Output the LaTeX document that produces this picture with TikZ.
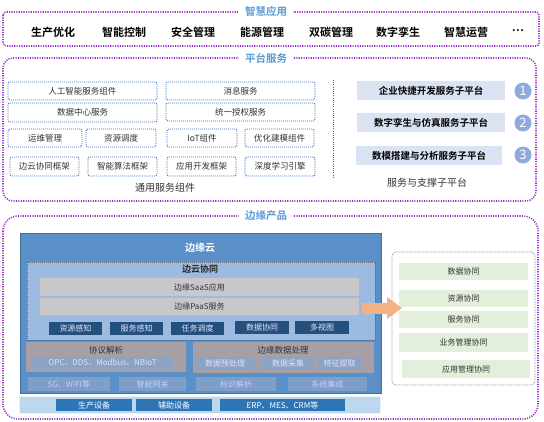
\documentclass[tikz,border=0pt]{standalone}
\usepackage{fontspec}
\setmainfont{Noto Sans CJK SC}[BoldFont={Noto Sans CJK SC Bold}]
\usetikzlibrary{arrows.meta}
\definecolor{purp}{HTML}{9B30C8}
\definecolor{ttl}{HTML}{5B9BD5}
\definecolor{dblue}{HTML}{4472C4}
\definecolor{subbg}{HTML}{DAE3F3}
\definecolor{circ}{HTML}{8EA9DB}
\definecolor{cloud}{HTML}{5A8FC7}
\definecolor{cloudb}{HTML}{41719C}
\definecolor{inner}{HTML}{9DBBE0}
\definecolor{greybar}{HTML}{C9C7CA}
\definecolor{navy}{HTML}{23507D}
\definecolor{mauve}{HTML}{A6A0A6}
\definecolor{opc}{HTML}{8DA3C4}
\definecolor{row5}{HTML}{7E9FC8}
\definecolor{band}{HTML}{BDD7EE}
\definecolor{devb}{HTML}{2E75B6}
\definecolor{green}{HTML}{E2EFDA}
\definecolor{orng}{HTML}{F4B183}
\definecolor{pnl}{HTML}{8497B0}
\newcommand\mybox[7]{\node[#6, minimum width={#4-#2}, minimum height={#5-#3}, inner sep=0pt, anchor=center] (#1) at ({(#2+#4)/2},{(#3+#5)/2}) {#7};}
\tikzset{
  region/.style={draw=purp, line width=1.6pt, dash pattern=on 1.1pt off 1.3pt},
  rtitle/.style={fill=white, text=ttl, font=\fontsize{10.5}{12}\selectfont\bfseries, inner xsep=6pt, inner ysep=1pt},
  toptext/.style={font=\fontsize{11}{13}\selectfont\bfseries},
  comp/.style={draw=dblue, line width=0.9pt, dash pattern=on 1pt off 1pt, rounded corners=2pt, font=\fontsize{8.5}{10}\selectfont, text=black!80},
  subplat/.style={fill=subbg, font=\fontsize{9.5}{11}\selectfont\bfseries},
  numc/.style={circle, fill=circ, text=white, minimum size=17pt, inner sep=0pt, font=\fontsize{13}{14}\selectfont},
  lbl/.style={font=\fontsize{9.5}{11}\selectfont, text=black!80},
  navybox/.style={fill=navy, text=white!90!blue, font=\fontsize{8}{9}\selectfont},
  greybox/.style={fill=greybar, text=black!80, font=\fontsize{8}{9}\selectfont},
  lightbox/.style={fill=opc, text=white!88!blue, font=\fontsize{8}{9}\selectfont},
  rowbox/.style={fill=row5, text=white!80!blue, font=\fontsize{8}{9}\selectfont},
  devbox/.style={fill=devb, text=white, font=\fontsize{8}{9}\selectfont},
  grnbox/.style={fill=green, text=black!80, font=\fontsize{8}{9}\selectfont},
}
\begin{document}
\begin{tikzpicture}[x=1pt,y=-1pt]
\useasboundingbox (0,0) rectangle (544,421);
\fill[white] (0,0) rectangle (544,421);
% ---------- top region
\draw[region, rounded corners=3pt] (3,12) rectangle (539,46);
\node[rtitle] (t1) at (266,11) {智慧应用};
\node[toptext] (a1) at (53,32) {生产优化};
\node[toptext] (a2) at (124,32) {智能控制};
\node[toptext] (a3) at (193,32) {安全管理};
\node[toptext] (a4) at (262,32) {能源管理};
\node[toptext] (a5) at (331,32) {双碳管理};
\node[toptext] (a6) at (398,32) {数字孪生};
\node[toptext] (a7) at (466,32) {智慧运营};
\node[toptext] (a8) at (518,31) {…};
% ---------- platform region
\draw[region, rounded corners=10pt] (3,58) rectangle (536,201);
\node[rtitle] (t2) at (266,58) {平台服务};
\mybox{p1}{8}{82}{157}{100}{comp}{人工智能服务组件}
\mybox{p2}{8}{103}{157}{122}{comp}{数据中心服务}
\mybox{p3}{166}{82}{315}{100}{comp}{消息服务}
\mybox{p4}{166}{103}{315}{121}{comp}{统一授权服务}
\mybox{p5}{8}{129}{82}{147}{comp}{运维管理}
\mybox{p6}{86}{129}{156}{147}{comp}{资源调度}
\mybox{p7}{167}{129}{237}{147}{comp}{IoT组件}
\mybox{p8}{245}{129}{314}{147}{comp}{优化建模组件}
\mybox{p9}{10}{157}{79}{176}{comp}{边云协同框架}
\mybox{p10}{88}{157}{157}{176}{comp}{智能算法框架}
\mybox{p11}{167}{157}{236}{176}{comp}{应用开发框架}
\mybox{p12}{245}{157}{315}{176}{comp}{深度学习引擎}
\node[lbl, font=\fontsize{10}{12}\selectfont] (pl) at (165,188) {通用服务组件};
\draw[purp, line width=1pt, dash pattern=on 1pt off 1.2pt] (333,80) -- (333,177);
\mybox{s1}{357}{81}{505}{100}{subplat}{企业快捷开发服务子平台}
\mybox{s2}{357}{113}{505}{132}{subplat}{数字孪生与仿真服务子平台}
\mybox{s3}{356}{146}{502}{165}{subplat}{数模搭建与分析服务子平台}
\node[numc] (n1) at (523,91) {1};
\node[numc] (n2) at (523,123) {2};
\node[numc] (n3) at (523,155) {3};
\node[lbl, font=\fontsize{10}{12}\selectfont] (sl) at (427,183) {服务与支撑子平台};
% ---------- edge region
\draw[region, rounded corners=15pt] (3,216) rectangle (538,419);
\node[rtitle] (t3) at (266,216) {边缘产品};
\mybox{cloud}{20}{233}{381}{393}{fill=cloud, draw=cloudb, line width=0.8pt}{}
\node[text=white, font=\fontsize{10}{12}\selectfont\bfseries] (ct) at (200,248) {边缘云};
\mybox{ec}{27}{262}{375}{340}{fill=inner, draw=black!60, line width=0.6pt, dash pattern=on 1pt off 1pt}{}
\node[text=black!85, font=\fontsize{9}{11}\selectfont\bfseries] (ect) at (200,269) {边云协同};
\mybox{saas}{40}{278}{359}{296}{greybox}{边缘SaaS应用}
\mybox{paas}{40}{298}{359}{315}{greybox}{边缘PaaS服务}
\mybox{k1}{49}{322}{102}{335}{navybox}{资源感知}
\mybox{k2}{110}{322}{163}{335}{navybox}{服务感知}
\mybox{k3}{171}{322}{224}{335}{navybox}{任务调度}
\mybox{k4}{235}{321}{289}{334}{navybox}{数据协同}
\mybox{k5}{295}{321}{349}{334}{navybox}{多视图}
\mybox{proto}{26}{342}{186}{372}{fill=mauve}{}
\node[text=black!80, font=\fontsize{8.5}{10}\selectfont] (prt) at (106,350) {协议解析};
\mybox{opc}{32}{357}{173}{369}{lightbox}{OPC、DDS、Modbus、NBIoT}
\mybox{edp}{193}{342}{374}{373}{fill=mauve}{}
\node[text=black!80, font=\fontsize{8.5}{10}\selectfont] (edt) at (283,350) {边缘数据处理};
\mybox{d1}{195}{357}{255}{370}{lightbox}{数据预处理}
\mybox{d2}{262}{357}{314}{370}{lightbox}{数据采集}
\mybox{d3}{317}{357}{362}{370}{lightbox}{特征提取}
\mybox{r1}{28}{377}{110}{391}{rowbox}{5G、WIFI等}
\mybox{r2}{119}{377}{186}{391}{rowbox}{智能网关}
\mybox{r3}{196}{377}{276}{391}{rowbox}{标识解析}
\mybox{r4}{288}{377}{367}{391}{rowbox}{系统集成}
\mybox{band}{19}{396}{380}{413}{fill=band, draw=white!70!band}{}
\mybox{e1}{56}{399}{132}{411}{devbox}{生产设备}
\mybox{e2}{136}{399}{212}{411}{devbox}{辅助设备}
\mybox{e3}{220}{399}{345}{411}{devbox}{ERP、MES、CRM等}
% right panel
\mybox{panel}{392}{252}{535}{385}{draw=pnl, line width=0.7pt, dash pattern=on 0.8pt off 0.8pt, rounded corners=4pt}{}
\mybox{g1}{399}{263}{528}{280}{grnbox}{数据协同}
\mybox{g2}{399}{290}{528}{307}{grnbox}{资源协同}
\mybox{g3}{399}{311}{528}{328}{grnbox}{服务协同}
\mybox{g4}{399}{333}{528}{352}{grnbox}{业务管理协同}
\mybox{g5}{402}{360}{530}{378}{grnbox}{应用管理协同}
% arrow
\coordinate (aS) at (362,308);
\coordinate (aE) at (402,308);
\draw[orng, line width=11pt, -{Triangle[length=15pt,width=21pt]}] (aS) -- (aE);
\end{tikzpicture}
\end{document}
